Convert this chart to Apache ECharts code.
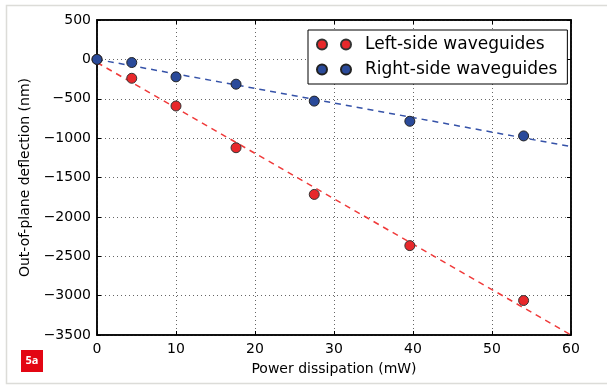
<!DOCTYPE html>
<html>
<head>
<meta charset="utf-8">
<script src="https://cdn.jsdelivr.net/npm/echarts@6/dist/echarts.min.js"></script>
<style>
  html, body { margin: 0; padding: 0; background: #fff; }
  #chart { width: 607px; height: 386px; }
</style>
</head>
<body>
<div id="chart"></div>
<script>
// measured points (power in mW, deflection in nm)
const leftPoints = [[0, 0], [4.4, -240], [10, -592], [17.6, -1122], [27.5, -1715], [39.6, -2365], [54, -3062]];
const rightPoints = [[0, 0], [4.4, -40], [10, -222], [17.6, -315], [27.5, -530], [39.6, -786], [54, -972]];
// dashed fit lines, endpoints
const leftFit = [[0, -40], [60, -3500]];
const rightFit = [[0, 0], [60, -1108]];

const xTicks = { min: 0, max: 60, interval: 10 };
const yTicks = { min: -3500, max: 500, interval: 500 };

const RED = "#e8282b";
const BLUE = "#2a4a9a";
const FONT = "DejaVu Sans";

const chart = echarts.init(document.getElementById("chart"));

const minus = (v) => String(v).replace("-", "\u2212");
const gridLine = { show: true, lineStyle: { color: "#666", type: [1, 3], width: 1 } };
const axisLine = { show: true, onZero: false, lineStyle: { color: "#000", width: 1.5 } };
const tick = { show: true, inside: true, length: 4, lineStyle: { color: "#000", width: 1 } };
const twoDots = "path://M0,5a5,5 0 1,0 10,0a5,5 0 1,0 -10,0M24,5a5,5 0 1,0 10,0a5,5 0 1,0 -10,0";

chart.setOption({
  animation: false,
  textStyle: { fontFamily: FONT },
  grid: { left: 97, top: 20, right: 36, bottom: 51, show: true, borderColor: "#000", borderWidth: 1.5 },
  legend: {
    data: ["Left-side waveguides", "Right-side waveguides"],
    orient: "vertical",
    left: 308,
    top: 30,
    icon: twoDots,
    itemWidth: 34,
    itemHeight: 10,
    itemGap: 8,
    padding: [6, 10, 6, 8],
    borderColor: "#000",
    borderWidth: 1,
    backgroundColor: "#fff",
    textStyle: { fontFamily: FONT, fontSize: 17, color: "#000", padding: [0, 0, 0, 9] },
  },
  xAxis: [
    {
      type: "value", ...xTicks,
      name: "Power dissipation (mW)", nameLocation: "middle", nameGap: 27,
      nameTextStyle: { fontFamily: FONT, fontSize: 14, color: "#000" },
      axisLine, axisTick: tick, splitLine: gridLine,
      axisLabel: { color: "#000", fontSize: 14, fontFamily: FONT, margin: 7, formatter: minus },
    },
    {
      type: "value", ...xTicks, position: "top",
      axisLine, axisTick: tick, splitLine: { show: false }, axisLabel: { show: false },
    },
  ],
  yAxis: [
    {
      type: "value", ...yTicks,
      name: "Out-of-plane deflection (nm)", nameLocation: "middle", nameGap: 56,
      nameTextStyle: { fontFamily: FONT, fontSize: 14, color: "#000" },
      axisLine, axisTick: tick, splitLine: gridLine,
      axisLabel: { color: "#000", fontSize: 14, fontFamily: FONT, margin: 6, formatter: minus },
    },
    {
      type: "value", ...yTicks, position: "right",
      axisLine, axisTick: tick, splitLine: { show: false }, axisLabel: { show: false },
    },
  ],
  series: [
    {
      name: "leftFit", type: "line", data: leftFit, symbol: "none", silent: true, z: 2,
      lineStyle: { color: "#f03a3a", width: 1.5, type: [6, 5] },
    },
    {
      name: "rightFit", type: "line", data: rightFit, symbol: "none", silent: true, z: 2,
      lineStyle: { color: "#3552a8", width: 1.5, type: [6, 5] },
    },
    {
      name: "Left-side waveguides", type: "scatter", data: leftPoints, symbolSize: 10, z: 3,
      itemStyle: { color: RED, borderColor: "#333", borderWidth: 1, opacity: 1 },
    },
    {
      name: "Right-side waveguides", type: "scatter", data: rightPoints, symbolSize: 10, z: 4,
      itemStyle: { color: BLUE, borderColor: "#222", borderWidth: 1, opacity: 1 },
    },
  ],
  graphic: [
    {
      type: "polyline", silent: true,
      shape: { points: [[607, 5.5], [6.5, 5.5], [6.5, 383.5], [607, 383.5]] },
      style: { stroke: "#dcdcd8", lineWidth: 1.5, fill: null },
    },
    {
      type: "group", left: 21, top: 350,
      children: [
        { type: "rect", shape: { x: 0, y: 0, width: 22, height: 22 }, style: { fill: "#e30613" } },
        {
          type: "text", x: 11, y: 11,
          style: { text: "5a", fill: "#fff", font: "bold 11px 'Open Sans'", align: "center", verticalAlign: "middle" },
        },
      ],
    },
  ],
});
</script>
</body>
</html>
